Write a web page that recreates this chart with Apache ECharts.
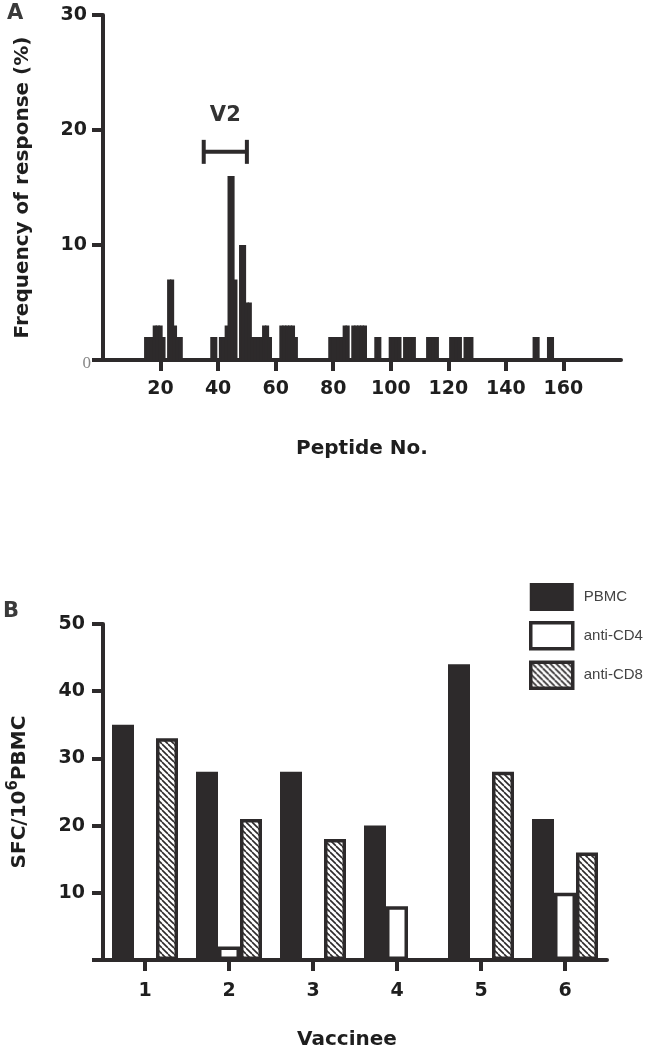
<!DOCTYPE html>
<html>
<head>
<meta charset="utf-8">
<script src="https://cdn.jsdelivr.net/npm/echarts@6/dist/echarts.min.js"></script>
<style>
html,body{margin:0;padding:0;background:#fff;}
#chart{width:645px;height:1050px;}
</style>
</head>
<body>
<div id="chart"></div>
<script>
// ---------- Panel A data ----------
const peptideNo = [15,16,17,18,19,20,21,23,24,25,26,27,
  38,39,41,42,43,44,45,46,48,49,50,51,52,53,54,55,56,57,58,
  62,63,64,65,66,67,
  79,80,81,82,83,84,85,87,88,89,90,91,
  95,96,100,101,102,103,105,106,107,108,113,114,115,116,
  121,122,123,124,126,127,128,150,151,155,156];
const frequency = [2,2,2,3,3,3,2,7,7,3,2,2,
  2,2,2,2,3,16,16,7,10,10,5,5,2,2,2,2,3,3,2,
  3,3,3,3,3,2,
  2,2,2,2,2,3,3,3,3,3,3,3,
  2,2,2,2,2,2,2,2,2,2,2,2,2,2,
  2,2,2,2,2,2,2,2,2,2,2];
const peptideTicks = [20,40,60,80,100,120,140,160];
const v2Span = [35, 50];
const v2Level = 18.1;
const v2Label = 'V2';

// ---------- Panel B data ----------
const vaccinees = ['1','2','3','4','5','6'];
const pbmc    = [35,28,28,20,44,21];
const antiCD4 = [0, 2, 0, 8, 0,10];
const antiCD8 = [33,21,18,0,28,16];
const sfcTicks = [10,20,30,40,50];

const DARK = '#2d2a2b';
const BOLD = {fontFamily:'DejaVu Sans', fontWeight:'bold', fontSize:19, color:'#1e1e1e'};
const TITLE = {fontFamily:'DejaVu Sans', fontWeight:'bold', fontSize:20, color:'#1e1e1e'};

// hatch pattern
const pc = document.createElement('canvas');
pc.width = 6; pc.height = 6;
const cx = pc.getContext('2d');
cx.fillStyle = '#fff'; cx.fillRect(0,0,6,6);
cx.strokeStyle = DARK; cx.lineWidth = 1.6;
for (const k of [-6,0,6]) { cx.beginPath(); cx.moveTo(k,0); cx.lineTo(k+6,6); cx.stroke(); }
const hatch = {image: pc, repeat: 'repeat'};

const chart = echarts.init(document.getElementById('chart'), null, {renderer:'canvas'});

const option = {
  animation: false,
  backgroundColor: '#fff',
  title: [
    {text:'A', left:7, top:3, padding:0, textStyle:{fontFamily:'DejaVu Sans', fontWeight:'bold', fontSize:21, color:'#3a3a3a'}},
    {text:'B', left:3, top:601, padding:0, textStyle:{fontFamily:'DejaVu Sans', fontWeight:'bold', fontSize:21, color:'#3a3a3a'}}
  ],
  legend: {
    orient:'vertical', left:529, top:583, padding:0, itemWidth:42, itemGap:10, itemHeight:26,
    icon:'rect',
    textStyle:{fontFamily:'Liberation Sans', fontSize:15, color:'#444', padding:[0,0,0,6]},
    data:[
      {name:'PBMC'},
      {name:'anti-CD4', itemStyle:{borderWidth:3.5, borderColor:DARK}},
      {name:'anti-CD8', itemStyle:{borderWidth:3.5, borderColor:DARK}}
    ]
  },
  grid: [
    {left:103, right:24, top:15, bottom:690, outerBoundsMode:'none'},
    {left:103, right:38, top:624, bottom:90, outerBoundsMode:'none'}
  ],
  xAxis: [
    {
      gridIndex:0, type:'value', min:0, max:180, interval:20,
      name:'Peptide No.', nameLocation:'middle', nameGap:79,
      nameTextStyle:TITLE,
      axisLine:{show:true, lineStyle:{color:DARK, width:4}},
      axisTick:{show:true, customValues:peptideTicks, length:11, lineStyle:{color:DARK, width:4}},
      axisLabel:Object.assign({customValues:peptideTicks, margin:20}, BOLD),
      splitLine:{show:false}
    },
    {
      gridIndex:1, type:'category', data:vaccinees,
      name:'Vaccinee', nameLocation:'middle', nameGap:70,
      nameTextStyle:Object.assign({}, TITLE, {padding:[0,16,0,0]}),
      axisLine:{show:true, lineStyle:{color:DARK, width:4}},
      axisTick:{show:true, alignWithLabel:true, length:11, lineStyle:{color:DARK, width:4}},
      axisLabel:Object.assign({margin:22}, BOLD),
      splitLine:{show:false}
    }
  ],
  yAxis: [
    {
      gridIndex:0, type:'value', min:0, max:30, interval:10,
      name:'Frequency of response (%)', nameLocation:'middle', nameGap:70,
      nameTextStyle:TITLE,
      axisLine:{show:true, lineStyle:{color:DARK, width:4}},
      axisTick:{show:true, length:11, lineStyle:{color:DARK, width:4}},
      axisLabel:{
        margin:12,
        formatter:function(v){ return v === 0 ? '{z|0}' : '{b|' + v + '}'; },
        rich:{
          z:{fontFamily:'Liberation Serif', fontSize:17, color:'#888', padding:[8,0,0,0]},
          b:{fontFamily:'DejaVu Sans', fontWeight:'bold', fontSize:19, color:'#1e1e1e', padding:[0,4,0,0]}
        }
      },
      splitLine:{show:false}
    },
    {
      gridIndex:1, type:'value', min:0, max:50, interval:10,
      name:'SFC/10{s|6}PBMC', nameLocation:'middle', nameGap:70,
      nameTextStyle:Object.assign({}, TITLE, {rich:{s:{fontFamily:'DejaVu Sans', fontWeight:'bold', fontSize:15, color:'#1e1e1e', padding:[0,0,12,0]}}}),
      axisLine:{show:true, lineStyle:{color:DARK, width:4}},
      axisTick:{show:true, length:11, lineStyle:{color:DARK, width:4}},
      axisLabel:Object.assign({customValues:sfcTicks, margin:18}, BOLD),
      splitLine:{show:false}
    }
  ],
  series: [
    {
      type:'bar', xAxisIndex:0, yAxisIndex:0, barWidth:4.2,
      data: peptideNo.map((p,i)=>[p, frequency[i]]),
      itemStyle:{color:DARK}
    },
    {
      type:'custom', xAxisIndex:0, yAxisIndex:0,
      data:[[v2Span[0], v2Span[1], v2Level]],
      renderItem:function(params, api){
        const a = api.coord([api.value(0), api.value(2)]);
        const b = api.coord([api.value(1), api.value(2)]);
        const st = {stroke:DARK, lineWidth:4};
        return {type:'group', children:[
          {type:'line', shape:{x1:a[0], y1:a[1], x2:b[0], y2:b[1]}, style:st},
          {type:'line', shape:{x1:a[0], y1:a[1]-12, x2:a[0], y2:a[1]+12}, style:st},
          {type:'line', shape:{x1:b[0], y1:b[1]-12, x2:b[0], y2:b[1]+12}, style:st},
          {type:'text', x:(a[0]+b[0])/2, y:a[1]-36, style:{text:v2Label, align:'center', verticalAlign:'middle', font:'bold 21px "DejaVu Sans"', fill:'#333'}}
        ]};
      }
    },
    {
      name:'PBMC', type:'bar', xAxisIndex:1, yAxisIndex:1, data:pbmc,
      barWidth:22, barGap:'0%',
      itemStyle:{color:DARK, borderColor:DARK, borderWidth:3}
    },
    {
      name:'anti-CD4', type:'bar', xAxisIndex:1, yAxisIndex:1, data:antiCD4,
      barWidth:22, barGap:'0%',
      itemStyle:{color:'#fff', borderColor:DARK, borderWidth:3.5}
    },
    {
      name:'anti-CD8', type:'bar', xAxisIndex:1, yAxisIndex:1, data:antiCD8,
      barWidth:22, barGap:'0%',
      itemStyle:{color:hatch, borderColor:DARK, borderWidth:3.5}
    }
  ]
};
chart.setOption(option);
</script>
</body>
</html>
